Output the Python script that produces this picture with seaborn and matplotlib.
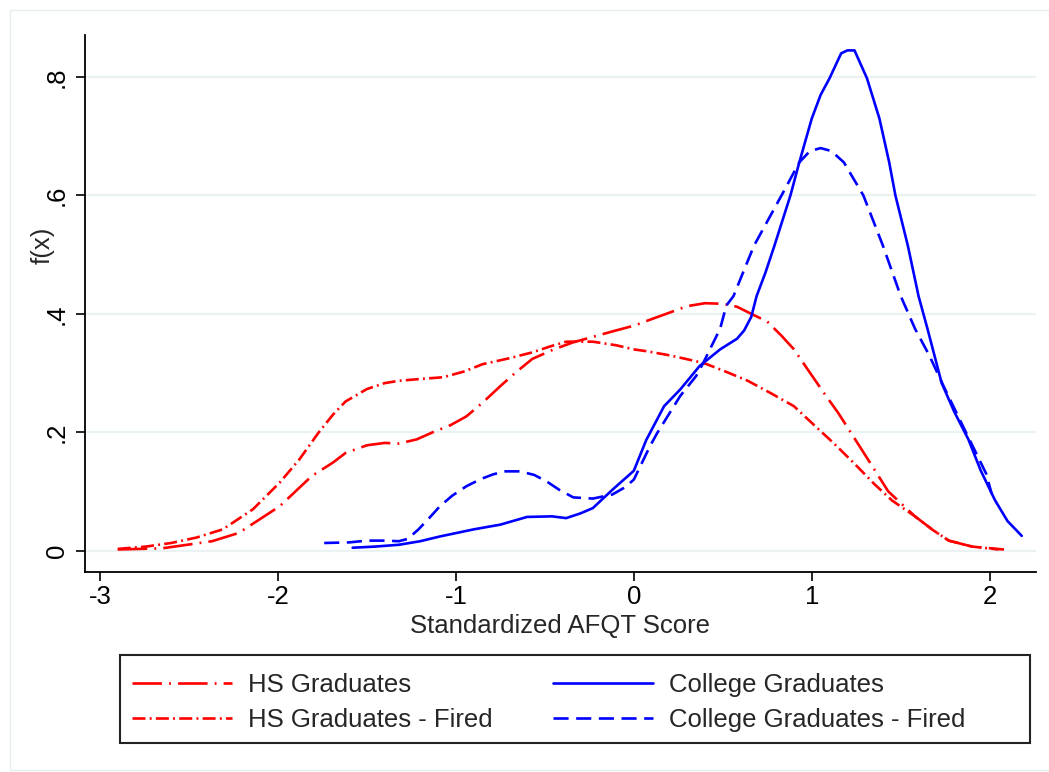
import matplotlib
matplotlib.use("Agg")
import matplotlib.pyplot as plt
import seaborn as sns
import pandas as pd
from matplotlib.patches import Rectangle

# ---------------- data ----------------
hs_x = [-2.90, -2.65, -2.37, -2.22, -1.99, -1.81, -1.69, -1.62, -1.50, -1.40, -1.32, -1.22,
        -1.13, -1.03, -0.94, -0.85, -0.75, -0.66, -0.57, -0.45, -0.34, -0.22, -0.10, 0.00,
        0.09, 0.20, 0.30, 0.40, 0.50, 0.58, 0.66, 0.75, 0.83, 0.90, 0.975, 1.06, 1.15, 1.28,
        1.43, 1.58, 1.68, 1.77, 1.90, 2.08]
hs_y = [0.002, 0.004, 0.016, 0.030, 0.075, 0.126, 0.149, 0.165, 0.178, 0.182, 0.181, 0.188,
        0.200, 0.212, 0.227, 0.250, 0.278, 0.302, 0.324, 0.340, 0.352, 0.362, 0.372, 0.380,
        0.390, 0.402, 0.413, 0.418, 0.417, 0.412, 0.400, 0.387, 0.363, 0.340, 0.307, 0.270,
        0.232, 0.171, 0.100, 0.058, 0.035, 0.017, 0.007, 0.002]

hsf_x = [-2.90, -2.74, -2.60, -2.46, -2.31, -2.14, -1.99, -1.88, -1.77, -1.69, -1.62, -1.50,
         -1.40, -1.32, -1.20, -1.07, -0.95, -0.85, -0.70, -0.57, -0.47, -0.38, -0.23, -0.10,
         0.00, 0.07, 0.20, 0.35, 0.41, 0.52, 0.64, 0.77, 0.90, 1.01, 1.125, 1.24, 1.35, 1.45,
         1.58, 1.68, 1.77, 1.90, 2.05]
hsf_y = [0.003, 0.007, 0.013, 0.022, 0.036, 0.070, 0.115, 0.154, 0.200, 0.230, 0.252, 0.273,
         0.283, 0.287, 0.290, 0.293, 0.303, 0.315, 0.325, 0.335, 0.345, 0.353, 0.353, 0.347,
         0.340, 0.337, 0.330, 0.320, 0.315, 0.302, 0.287, 0.266, 0.244, 0.213, 0.181, 0.147,
         0.113, 0.085, 0.058, 0.035, 0.017, 0.007, 0.002]

col_x = [-1.58, -1.45, -1.32, -1.20, -1.09, -0.90, -0.75, -0.60, -0.46, -0.38, -0.30, -0.23,
         -0.12, 0.00, 0.07, 0.17, 0.26, 0.37, 0.485, 0.58, 0.62, 0.66, 0.69, 0.74, 0.79, 0.88,
         0.93, 1.00, 1.05, 1.10, 1.165, 1.20, 1.24, 1.31, 1.38, 1.435, 1.47, 1.54, 1.60, 1.65,
         1.73, 1.80, 1.88, 1.95, 2.03, 2.10, 2.18]
col_y = [0.005, 0.007, 0.010, 0.016, 0.024, 0.036, 0.044, 0.057, 0.058, 0.055, 0.063, 0.072,
         0.103, 0.135, 0.187, 0.244, 0.272, 0.312, 0.340, 0.358, 0.372, 0.395, 0.430, 0.470,
         0.515, 0.600, 0.656, 0.730, 0.770, 0.798, 0.840, 0.845, 0.845, 0.798, 0.730, 0.656,
         0.600, 0.515, 0.430, 0.375, 0.283, 0.235, 0.188, 0.135, 0.085, 0.050, 0.025]

colf_x = [-1.74, -1.60, -1.50, -1.40, -1.32, -1.27, -1.21, -1.15, -1.09, -1.02, -0.94, -0.86,
          -0.79, -0.72, -0.64, -0.56, -0.49, -0.42, -0.34, -0.23, -0.12, -0.05, 0.00, 0.09,
          0.13, 0.26, 0.35, 0.39, 0.485, 0.52, 0.56, 0.675, 0.83, 0.93, 0.99, 1.05, 1.11, 1.18,
          1.29, 1.40, 1.50, 1.58, 1.66, 1.75, 1.85, 1.98, 2.01]
colf_y = [0.013, 0.014, 0.017, 0.017, 0.016, 0.020, 0.036, 0.055, 0.075, 0.093, 0.109, 0.121,
          0.129, 0.134, 0.134, 0.128, 0.117, 0.103, 0.090, 0.088, 0.095, 0.107, 0.120, 0.176,
          0.198, 0.261, 0.295, 0.317, 0.375, 0.414, 0.430, 0.515, 0.600, 0.656, 0.675, 0.680,
          0.675, 0.656, 0.600, 0.515, 0.430, 0.375, 0.330, 0.272, 0.210, 0.130, 0.097]

labels = ["HS Graduates", "HS Graduates - Fired", "College Graduates", "College Graduates - Fired"]
x_ticks = [-3, -2, -1, 0, 1, 2]
y_ticks = [0, 0.2, 0.4, 0.6, 0.8]
y_tick_labels = ["0", ".2", ".4", ".6", ".8"]

# ---------------- styling ----------------
sns.set_theme(style="white")
plt.rcParams["font.family"] = ["Liberation Sans", "DejaVu Sans"]
FS = 18.5
LW = 1.9
k = 1.7 / LW  # keep dash lengths in pixels

series = [
    (hs_x, hs_y, labels[0], "#ff0000", (0, (12.5 * k, 3.0 * k, 0.8 * k, 3.0 * k))),
    (hsf_x, hsf_y, labels[1], "#ff0000", (0, (5.5 * k, 1.8 * k, 0.8 * k, 1.8 * k))),
    (col_x, col_y, labels[2], "#0000ff", "-"),
    (colf_x, colf_y, labels[3], "#0000ff", (0, (6.4 * k, 3.2 * k))),
]

W, H = 1049, 772
fig = plt.figure(figsize=(W / 100, H / 100), dpi=100)
fig.patch.set_facecolor("white")
fig.patches.append(Rectangle((10 / W, 0.002), 1 - 10 / W, 1 - 10 / H - 0.002,
                             transform=fig.transFigure, fill=False,
                             edgecolor="#e6ecec", lw=1.0))
ax = fig.add_axes([85 / W, 1 - 572 / H, (1036 - 85) / W, (572 - 35) / H])

for xs, ys, lab, colr, ls in series:
    df = pd.DataFrame({"x": xs, "y": ys})
    sns.lineplot(data=df, x="x", y="y", ax=ax, color=colr, linestyle=ls,
                 linewidth=LW, label=lab, sort=False, estimator=None)

ax.set_xlim(-3.084, 2.26)
ax.set_ylim(-0.036, 0.871)
ax.set_xticks(x_ticks)
ax.set_xticklabels([str(t) for t in x_ticks], fontsize=FS)
ax.set_yticks(y_ticks)
ax.set_yticklabels(y_tick_labels, fontsize=FS, rotation=90, va="center")
ax.grid(axis="y", color="#eaf2f3", linewidth=1.6)
ax.grid(axis="x", visible=False)
ax.set_axisbelow(True)
for s in ["top", "right"]:
    ax.spines[s].set_visible(False)
for s in ["left", "bottom"]:
    ax.spines[s].set_color("black")
    ax.spines[s].set_linewidth(1.3)
ax.tick_params(axis="both", direction="out", length=6.5, width=1.2, color="black",
               labelcolor="black", bottom=True, left=True)
ax.tick_params(axis="x", pad=3)
ax.tick_params(axis="y", pad=5)
ax.set_xlabel("Standardized AFQT Score", fontsize=FS)
ax.set_ylabel("f(x)", fontsize=FS)
ax.xaxis.set_label_coords((560 - 85) / (1036 - 85), (572 - 626) / (572 - 35))
ax.yaxis.set_label_coords((43 - 85) / (1036 - 85), (572 - 245) / (572 - 35))
ax.xaxis.label.set_va("center")
ax.yaxis.label.set_va("center")

# legend box (frame drawn as a figure rectangle to match the reference's padding)
fig.patches.append(Rectangle((120 / W, 1 - 743 / H), 910 / W, 88 / H,
                             transform=fig.transFigure, fill=False,
                             edgecolor="#222222", lw=1.5, zorder=5))
handles, labs = ax.get_legend_handles_labels()
em = FS * 100 / 72
leg = ax.legend(handles, labs, ncol=2, loc="upper left",
                bbox_to_anchor=(132 / W, 1 - 673 / H),
                bbox_transform=fig.transFigure,
                fontsize=FS, frameon=False, borderpad=0, borderaxespad=0,
                handlelength=100 / em, handletextpad=16 / em, labelspacing=0.42,
                columnspacing=60 / em)

fig.savefig("out.png", dpi=100, facecolor="white")
